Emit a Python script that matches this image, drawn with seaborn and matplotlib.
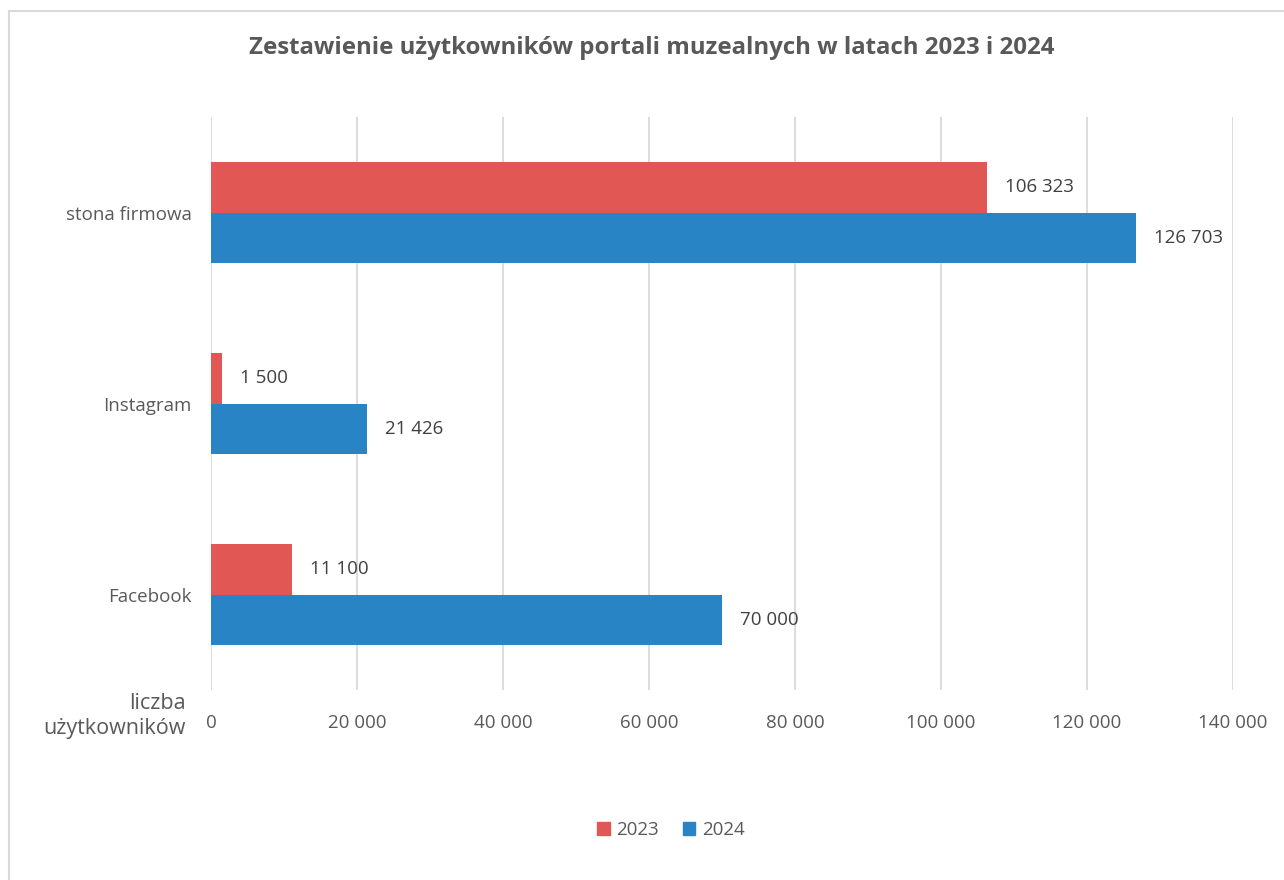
import matplotlib
matplotlib.use("Agg")
import matplotlib.pyplot as plt
import seaborn as sns
import pandas as pd
from matplotlib.patches import Rectangle

# dane z wykresu
kategorie = ["stona firmowa", "Instagram", "Facebook"]
lata = ["2023", "2024"]
wartosci_2023 = [106323, 1500, 11100]
wartosci_2024 = [126703, 21426, 70000]
ticki_x = [0, 20000, 40000, 60000, 80000, 100000, 120000, 140000]

kolory = {"2023": "#E05754", "2024": "#2884C4"}
szary = "#595959"

df = pd.DataFrame({
    "portal": kategorie * 2,
    "rok": ["2023"] * 3 + ["2024"] * 3,
    "uzytkownicy": wartosci_2023 + wartosci_2024,
})

def fmt(v):
    return f"{int(v):,}".replace(",", " ")

sns.set_style("white")
plt.rcParams["font.family"] = ["Open Sans", "DejaVu Sans"]

fig = plt.figure(figsize=(12.84, 8.8), dpi=100)
ax = fig.add_axes([211 / 1284, 1 - 690 / 880, (1233 - 211) / 1284, (690 - 117) / 880])

sns.barplot(data=df, y="portal", x="uzytkownicy", hue="rok", order=kategorie,
            hue_order=lata, palette=kolory, width=0.53, orient="h",
            saturation=1, linewidth=0, ax=ax, legend=False)

ax.set_xlim(0, 140000)
ax.set_ylim(2.5, -0.5)
ax.set_xticks(ticki_x)
ax.set_xticklabels([fmt(t) for t in ticki_x], fontsize=13.5, color=szary)
ax.tick_params(axis="x", pad=17, length=0)
ax.tick_params(axis="y", pad=14, length=0, labelsize=13.5, labelcolor=szary)
ax.grid(axis="x", color="#D9D9D9", linewidth=1.3)
ax.set_axisbelow(True)
for s in ax.spines.values():
    s.set_visible(False)
ax.set_xlabel("")
ax.set_ylabel("")

# etykiety wartości
for cont in ax.containers:
    ax.bar_label(cont, labels=[fmt(b.get_width()) for b in cont],
                 padding=13, fontsize=13.5, color="#404040")

# opis osi
fig.text(186 / 1284, 1 - 716 / 880, "liczba\nużytkowników", ha="right", va="center",
         fontsize=15.5, color=szary, linespacing=1.25)

fig.suptitle("Zestawienie użytkowników portali muzealnych w latach 2023 i 2024",
             x=652 / 1284, y=1 - 48 / 880, va="center", fontsize=17.3,
             fontweight="bold", color=szary)

# legenda
uchwyty = [Rectangle((0, 0), 1, 1, color=kolory[r]) for r in lata]
fig.legend(uchwyty, lata, loc="center", bbox_to_anchor=(671 / 1284, 1 - 830 / 880),
           ncol=2, frameon=False, fontsize=13.5, handlelength=0.65, handleheight=0.65,
           handletextpad=0.35, columnspacing=1.3, labelcolor=szary)

# ramka wykresu (lewa i górna krawędź widoczna)
fig.patches.append(Rectangle((9 / 1284, -0.01), 1.02, 1 - 11 / 880 + 0.01,
                             transform=fig.transFigure, fill=False,
                             edgecolor="#D9D9D9", linewidth=1.5))

fig.savefig("out.png", dpi=100)
